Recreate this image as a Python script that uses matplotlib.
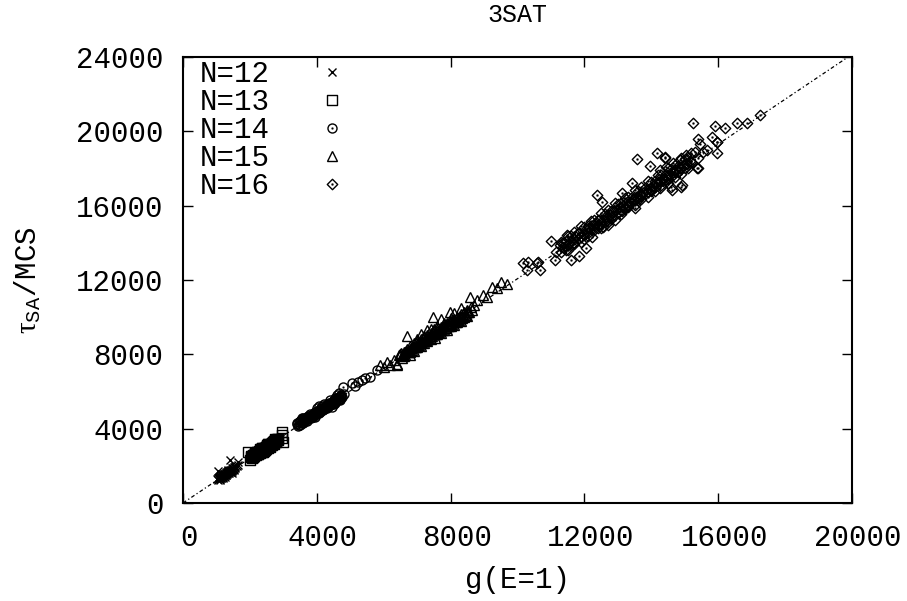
import numpy as np
import matplotlib
matplotlib.use("Agg")
import matplotlib.pyplot as plt
import matplotlib.transforms as mtransforms
from matplotlib.path import Path

plt.rcParams['font.family'] = ['Liberation Mono', 'DejaVu Sans']
plt.rcParams['mathtext.fontset'] = 'custom'
plt.rcParams['mathtext.rm'] = 'Liberation Serif'
plt.rcParams['mathtext.it'] = 'Liberation Serif:italic'
plt.rcParams['mathtext.tt'] = 'Liberation Mono'

# ---- data: g(E=1) vs tau_SA ----
n12_g = [1020, 1050, 1080, 1100, 1120, 1140, 1150, 1170, 1180, 1200, 1210, 1230, 1240, 1260,
         1270, 1290, 1300, 1320, 1330, 1350, 1360, 1380, 1400, 1420, 1440, 1460, 1480, 1500,
         1530, 1560, 1600, 1640, 1050, 1400, 1650, 1150, 1250, 1350, 1450, 1550,
         1060, 1090, 1110, 1130, 1160, 1190, 1220, 1250, 1280, 1310, 1340, 1370, 1390, 1410,
         1430, 1450, 1470, 1490, 1510, 1540, 1100, 1160, 1220, 1280, 1340, 1400, 1460, 1520,
         1180, 1300]
n12_tau = [1290, 1240, 1380, 1310, 1420, 1330, 1470, 1380, 1500, 1420, 1540, 1450, 1580, 1480,
           1600, 1530, 1650, 1560, 1700, 1590, 1720, 1640, 1750, 1680, 1800, 1730, 1820, 1900,
           1800, 1950, 2000, 2050, 1700, 2300, 2200, 1550, 1420, 1800, 1640, 1980,
           1350, 1330, 1440, 1370, 1450, 1510, 1490, 1560, 1590, 1620, 1650, 1700, 1660, 1740,
           1710, 1790, 1760, 1850, 1830, 1880, 1250, 1450, 1560, 1520, 1700, 1710, 1860, 1930,
           1350, 1690]

n13_g = [1950, 2000, 2040, 2080, 2100, 2130, 2160, 2190, 2220, 2250, 2280, 2300, 2330, 2360,
         2390, 2420, 2450, 2480, 2500, 2530, 2560, 2590, 2620, 2650, 2680, 2710, 2740, 2770,
         2800, 2830, 2950, 2960, 2970, 2980, 2100, 2200, 2300, 2400, 2500, 2600, 2700, 2050,
         2350, 2550, 2750,
         2020, 2060, 2110, 2150, 2180, 2210, 2240, 2270, 2310, 2340, 2370, 2400, 2430, 2460,
         2490, 2520, 2550, 2580, 2610, 2640, 2670, 2700, 2730, 2760, 2790, 2820, 2150, 2250,
         2350, 2450, 2550, 2650, 2750, 2850, 2120, 2320, 2520, 2720]
n13_tau = [2740, 2300, 2550, 2480, 2600, 2520, 2680, 2580, 2720, 2650, 2800, 2700, 2850, 2760,
           2920, 2820, 2980, 2900, 3050, 2950, 3120, 3050, 3200, 3100, 3280, 3200, 3350, 3300,
           3420, 3380, 3800, 3660, 3500, 3280, 2450, 2750, 2900, 2750, 3100, 3000, 3300, 2400,
           2950, 3200, 3450,
           2450, 2530, 2580, 2640, 2610, 2700, 2680, 2760, 2790, 2840, 2830, 2920, 2950, 2960,
           3010, 3040, 3050, 3110, 3140, 3150, 3230, 3240, 3290, 3320, 3340, 3400, 2700, 2650,
           2980, 2850, 3200, 3150, 3400, 3450, 2600, 2880, 3020, 3350]

n14_g = [3400, 3450, 3500, 3550, 3600, 3650, 3700, 3750, 3800, 3850, 3900, 3950, 4000, 4050,
         4100, 4150, 4200, 4250, 4300, 4350, 4400, 4450, 4500, 4550, 4600, 4650, 4700, 4750,
         4800, 3500, 3600, 3700, 3800, 3900, 4000, 4100, 4200, 4300, 4400, 4500, 4600, 4700,
         3550, 3750, 3950, 4150, 4350, 4550, 4780, 5050, 5230, 5440, 5600, 5800, 3600, 4050,
         4450, 4650, 5150, 5350,
         3420, 3480, 3520, 3580, 3620, 3680, 3720, 3780, 3820, 3880, 3920, 3980, 4020, 4080,
         4120, 4180, 4220, 4280, 4320, 4380, 4420, 4480, 4520, 4580, 4620, 4680, 4720, 3460,
         3640, 3820, 4000, 4180, 4360, 4540, 4720, 3580, 3760, 3940, 4120, 4300, 4480, 4660]
n14_tau = [4250, 4150, 4400, 4300, 4450, 4400, 4600, 4500, 4700, 4600, 4800, 4750, 4950, 4850,
           5050, 5000, 5150, 5100, 5300, 5200, 5400, 5350, 5550, 5450, 5650, 5600, 5750, 5700,
           5850, 4200, 4550, 4400, 4800, 4650, 5100, 4900, 5300, 5100, 5550, 5350, 5800, 5550,
           4550, 4700, 4600, 5200, 5400, 5650, 6240, 6460, 6500, 6730, 6780, 7160, 4300, 5200,
           5150, 5900, 6300, 6600,
           4300, 4350, 4450, 4380, 4520, 4560, 4550, 4680, 4620, 4760, 4820, 4800, 4900, 4950,
           4980, 5080, 5060, 5180, 5220, 5250, 5330, 5400, 5430, 5520, 5530, 5620, 5680, 4200,
           4480, 4580, 4850, 5000, 5300, 5400, 5800, 4500, 4650, 4900, 5100, 5250, 5500, 5700]

n15_g = [5900, 6000, 6100, 6200, 6300, 6400, 6500, 6550, 6600, 6650, 6700, 6750, 6800, 6850,
         6900, 6950, 7000, 7050, 7100, 7150, 7200, 7250, 7300, 7350, 7400, 7450, 7500, 7550,
         7600, 7650, 7700, 7750, 7800, 7850, 7900, 7950, 8000, 8050, 8100, 8150, 8200, 8250,
         8300, 8350, 8400, 8450, 8500, 8550, 8600, 8650, 8700, 6600, 6800, 7000, 7200, 7400,
         7600, 7800, 8000, 8200, 8400, 6400, 6800, 7470, 7530, 7980, 8580, 8970, 9100, 9250,
         9390, 9500, 9700, 6700, 7100, 7300, 7700, 8100, 8300, 8800,
         6450, 6520, 6580, 6630, 6680, 6720, 6780, 6830, 6880, 6920, 6980, 7020, 7080, 7120,
         7180, 7220, 7280, 7320, 7380, 7420, 7480, 7520, 7580, 7620, 7680, 7720, 7780, 7820,
         7880, 7920, 7980, 8020, 8080, 8120, 8180, 8220, 8280, 8320, 8380, 8420, 8480, 8520,
         6900, 7100, 7300, 7500, 7700, 7900, 8100, 8300, 8500, 7000, 7200, 7400, 7600, 7800, 8000]
n15_tau = [7400, 7300, 7600, 7400, 7700, 7500, 8000, 7800, 8150, 7950, 8300, 8100, 8450, 8250,
           8600, 8400, 8700, 8500, 8850, 8650, 8950, 8750, 9050, 8900, 9150, 9000, 9250, 9100,
           9350, 9200, 9450, 9300, 9550, 9400, 9700, 9550, 9800, 9650, 9900, 9750, 10000, 9850,
           10150, 9950, 10250, 10100, 10400, 10250, 10550, 10400, 10650, 7900, 8100, 8400, 8600, 8850,
           9100, 9300, 9550, 9750, 10000, 7400, 7970, 10000, 8900, 10300, 11100, 11200, 11100, 11600,
           11570, 11900, 11800, 9000, 9100, 9300, 9900, 10200, 10500, 10900,
           7950, 8050, 8000, 8100, 8200, 8150, 8300, 8350, 8400, 8380, 8550, 8520, 8650, 8600,
           8800, 8760, 8900, 8850, 9000, 8980, 9150, 9080, 9250, 9200, 9350, 9320, 9500, 9400,
           9600, 9550, 9700, 9650, 9850, 9780, 9950, 9900, 10050, 10000, 10150, 10100, 10300, 10250,
           8200, 8450, 8700, 9350, 9150, 9300, 9600, 9800, 10050, 8850, 9000, 9350, 9500, 9700, 9950]

n16_g = [10160, 10300, 10280, 10600, 10670, 10580, 11000, 11120, 11150, 11270, 11450, 11480, 11330,
         11300, 11400, 11500, 11600, 11700, 11800, 11900, 12000, 12100, 12200, 12300, 12400, 12500,
         12600, 12700, 12800, 12900, 13000, 13100, 13200, 13300, 13400, 13500, 13600, 13700, 13800,
         13900, 14000, 14100, 14200, 14300, 14400, 14500, 14600, 14700, 14800, 14900, 15000, 15100,
         15200, 15300,
         11300, 11400, 11500, 11600, 11700, 11800, 11900, 12000, 12100, 12200, 12300, 12400, 12500,
         12600, 12700, 12800, 12900, 13000, 13100, 13200, 13300, 13400, 13500, 13600, 13700, 13800,
         13900, 14000, 14100, 14200, 14300, 14400, 14500, 14600, 14700, 14800, 14900, 15000, 15100,
         15200,
         11350, 11550, 11750, 11950, 12150, 12350, 12550, 12750, 12950, 13150, 13350, 13550, 13750,
         13950, 14150, 14350, 14550, 14750, 14950, 15150,
         12380, 12530, 13570, 13960, 14170, 14400, 14620, 14920, 14260, 13120, 13420, 12230, 13120,
         12560, 15370, 15400, 15960, 15660, 15960, 12700, 13500, 15250, 15900, 17250, 16860, 16560,
         16200, 15800, 15960, 15400, 15450, 15550, 15400, 14600, 14900, 14400, 11600, 11850, 12050,
         11450, 11650, 11850, 12050, 12250, 12450, 12650, 12850, 13050, 13250, 13450, 13650, 13850,
         14050, 14250, 14450, 14650, 14850, 15050, 11500, 11900, 12300, 12700, 13100, 13500, 13900,
         14300, 14700, 15100, 12000, 12400, 12800, 13200, 13600, 14000, 14400, 14800, 11700, 12100,
         12500, 12900, 13300, 13700, 14100, 14500, 14900, 14250, 14450, 14650, 14850, 15050]
n16_tau = [12920, 12970, 12540, 12970, 12540, 12900, 14100, 13080, 13500, 13900, 13600, 14400, 14000,
           14030, 14000, 14390, 14340, 14570, 14520, 14910, 14860, 14900, 15200, 15240, 15220, 15610,
           15560, 15780, 15730, 16120, 16080, 16120, 16420, 16460, 16430, 16820, 16770, 17000, 16950,
           17340, 17290, 17330, 17630, 17670, 17650, 18040, 17990, 18210, 18160, 18550, 18510, 18550,
           18850, 18890,
           13480, 13730, 13590, 13890, 13920, 14190, 14040, 14400, 14350, 14720, 14690, 14950, 14810,
           15110, 15130, 15400, 15250, 15620, 15570, 15940, 15910, 16160, 16020, 16320, 16350, 16620,
           16470, 16830, 16780, 17150, 17120, 17380, 17240, 17540, 17560, 17830, 17680, 18050, 18000,
           18370,
           13800, 14000, 14300, 14500, 14800, 15000, 15250, 15500, 15750, 16000, 16200, 16450, 16700,
           16950, 17200, 17450, 17650, 17900, 18200, 18400,
           16580, 16200, 18500, 18140, 18840, 18570, 16850, 17100, 16950, 16700, 17200, 14300, 15700,
           14850, 18030, 18570, 18840, 19000, 19430, 14960, 15900, 20450, 20300, 20900, 20450, 20450,
           20200, 19700, 19400, 19600, 19300, 18900, 18000, 17000, 17000, 18600, 13100, 13300, 13700,
           14100, 14250, 14550, 14750, 14950, 15250, 15450, 15700, 15950, 16150, 16350, 16600, 16850,
           17050, 17350, 17550, 17800, 18000, 18250, 13900, 14300, 14800, 15300, 15750, 16300, 16750,
           17300, 17800, 18200, 14200, 14800, 15300, 15800, 16400, 16800, 17400, 17800, 14000, 14550,
           15000, 15500, 16050, 16500, 17000, 17450, 18050, 17900, 18100, 18300, 18450, 18700]

fit_slope = 1.207
labels = ['N=12', 'N=13', 'N=14', 'N=15', 'N=16']


def with_dot(outline):
    d = 0.08
    dot = Path([(-d, -d), (d, -d), (d, d), (-d, d), (-d, -d)],
               [Path.MOVETO, Path.LINETO, Path.LINETO, Path.LINETO, Path.CLOSEPOLY])
    return Path.make_compound_path(outline, dot)


def poly(verts):
    return Path(verts + [verts[0]], [Path.MOVETO] + [Path.LINETO] * (len(verts) - 1) + [Path.CLOSEPOLY])


sq_marker = with_dot(poly([(-1, -1), (1, -1), (1, 1), (-1, 1)]))
di_marker = with_dot(poly([(0, -1), (1, 0), (0, 1), (-1, 0)]))
ci_marker = with_dot(Path.unit_circle())

series = [(n12_g, n12_tau, 'x', 6), (n13_g, n13_tau, sq_marker, 6.5),
          (n14_g, n14_tau, ci_marker, 6.5), (n15_g, n15_tau, '^', 6.5),
          (n16_g, n16_tau, di_marker, 7.5)]

fig = plt.figure(figsize=(9.07, 6.01), dpi=100)
ax = fig.add_axes([0.2018, 0.1631, 0.7376, 0.7421])

xs = np.array([0, 20000])
ax.plot(xs, fit_slope * xs, color='black', lw=0.9, ls=(0, (3, 2, 1, 2)), zorder=1)

for (g, tau, mk, ms), lab in zip(series, labels):
    ax.plot(g, tau, ls='none', marker=mk, ms=ms, mfc='none', mec='black', mew=1.0,
            label=lab, zorder=2)

ax.set_xlim(0, 20000)
ax.set_ylim(0, 24000)
ax.set_xticks(range(0, 20001, 4000))
ax.set_yticks(range(0, 24001, 4000))
ax.tick_params(direction='in', top=True, right=True, length=7, width=1, labelsize=21)
ax.tick_params(axis='x', pad=15)
ax.tick_params(axis='y', pad=14)
for s in ax.spines.values():
    s.set_linewidth(1.5)

# gnuplot puts the x tick labels a few pixels right of the ticks
shift = mtransforms.ScaledTranslation(6 / 100, 0, fig.dpi_scale_trans)
for lbl in ax.get_xticklabels():
    lbl.set_transform(lbl.get_transform() + shift)

ax.set_title('3SAT', fontsize=18, pad=25)
ax.set_xlabel('g(E=1)', fontsize=21, labelpad=10)
ax.set_ylabel(r'$\mathrm{\tau}_{\mathtt{SA}}$/MCS', fontsize=21, labelpad=24)

leg = ax.legend(loc='upper left', bbox_to_anchor=(0.02, 1.0), frameon=False,
                markerfirst=False, fontsize=21, labelspacing=0.0, handlelength=1.5,
                handletextpad=1.4, borderaxespad=0.0, borderpad=0.1)

fig.savefig('out.png', dpi=100)
